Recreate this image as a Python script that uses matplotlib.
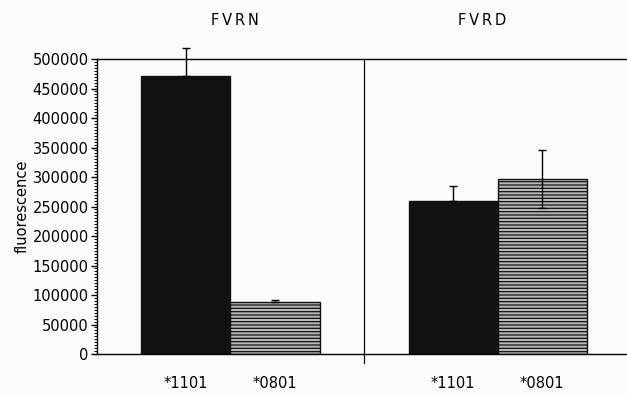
import numpy as np
import matplotlib.pyplot as plt
from matplotlib.ticker import MultipleLocator

# values
groups = ['FVRN', 'FVRD']
alleles = ['*1101', '*0801']
fvrn_vals = [471000, 88000]
fvrn_err = [47000, 3000]
fvrd_vals = [260000, 296000]
fvrd_err = [24000, 49000]

plt.rcParams['font.family'] = ['DejaVu Sans']
plt.rcParams['hatch.linewidth'] = 0.9
plt.rcParams['hatch.color'] = '#333333'

fig = plt.figure(figsize=(6.27, 3.94), dpi=100, facecolor='#fbfbfb')
ax = fig.add_axes([0.1547, 0.1015, 0.8453, 0.7487])
ax.set_facecolor('#fbfbfb')

x = np.array([1, 2, 4, 5])
vals = fvrn_vals + fvrd_vals
errs = fvrn_err + fvrd_err
faces = ['#111111', '#b8b8b8', '#111111', '#b8b8b8']
hatches = ['', '-----', '', '-----']

for xi, v, fc, h in zip(x, vals, faces, hatches):
    ax.bar(xi, v, width=1.0, color=fc, edgecolor='#111111', linewidth=1.0, hatch=h, zorder=2)

# upper error bars; the last one shows both sides
lower = [0, 0, 0, errs[3]]
eb = ax.errorbar(x, vals, yerr=[lower, errs], fmt='none', ecolor='black',
                 elinewidth=1.0, capsize=3, capthick=1.0, zorder=3)
for art in eb.lines[1] + eb.lines[2]:
    art.set_clip_on(False)

ax.set_xlim(0, 5.955)
ax.set_ylim(0, 500000)
ax.axvline(3, ymin=-0.03, ymax=1, color='black', linewidth=0.9, clip_on=False)

ax.spines['right'].set_visible(False)
for s in ['left', 'top', 'bottom']:
    ax.spines[s].set_linewidth(1.0)

ax.yaxis.set_major_locator(MultipleLocator(50000))
ax.yaxis.set_minor_locator(MultipleLocator(5000))
ax.tick_params(axis='y', which='major', length=4, width=1.0, labelsize=10.5, pad=2)
ax.tick_params(axis='y', which='minor', length=2, width=0.7)
ax.set_yticklabels([str(int(t)) for t in ax.get_yticks()])
ax.set_ylabel('fluorescence', fontsize=10.5, labelpad=2)

ax.set_xticks(x)
ax.set_xticklabels(alleles * 2, fontsize=10.5)
ax.tick_params(axis='x', length=0, pad=16)

# group titles, slightly letter-spaced
for gx, name in zip([1.55, 4.33], groups):
    ax.text(gx, 1.13, '\u2009'.join(name), transform=ax.get_xaxis_transform(),
            ha='center', va='center', fontsize=10.5)

fig.savefig('out.png', dpi=100, facecolor=fig.get_facecolor())
